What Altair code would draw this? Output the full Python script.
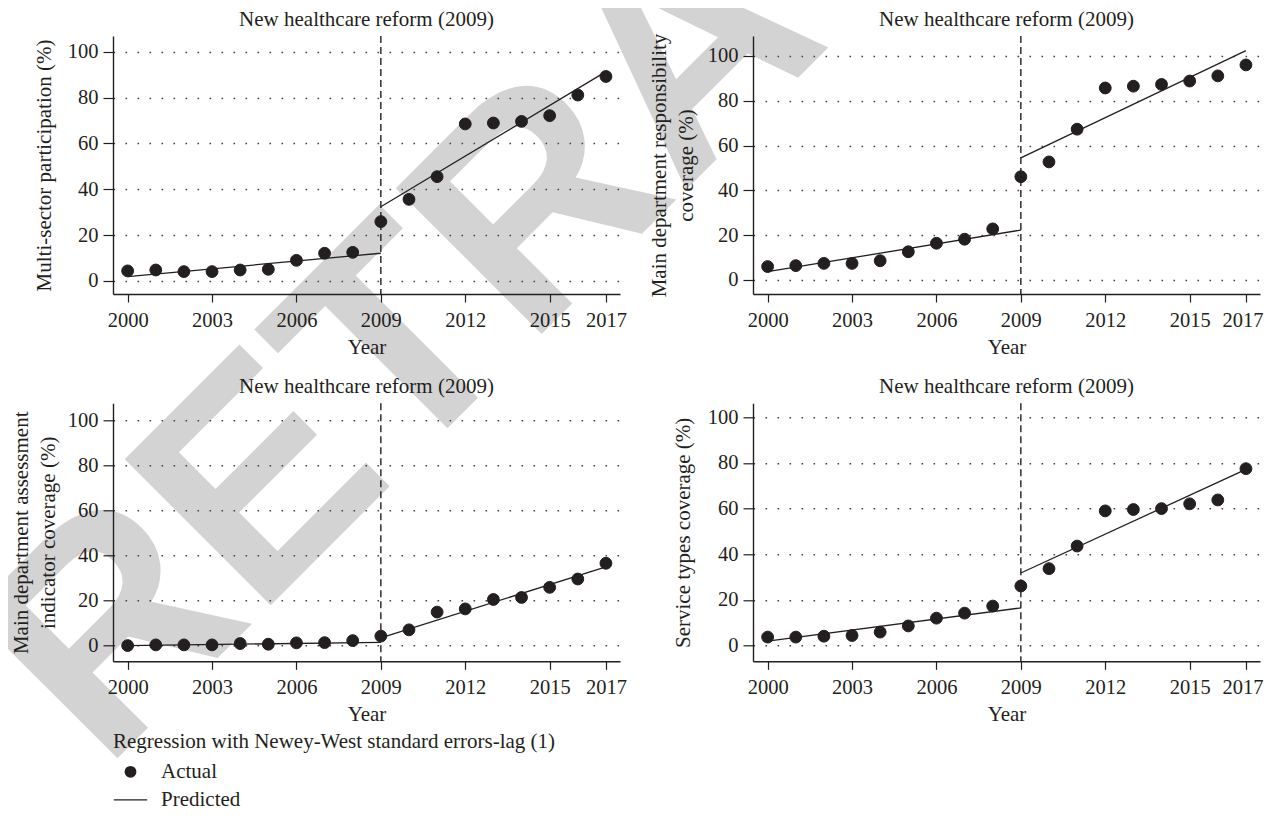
import altair as alt
import pandas as pd

# ---------------- data ----------------
years = list(range(2000, 2018))
x_ticks = [2000, 2003, 2006, 2009, 2012, 2015, 2017]
y_ticks = [0, 20, 40, 60, 80, 100]
reform_year = 2009
panel_title = "New healthcare reform (2009)"
x_title = "Year"
legend_title = "Regression with Newey-West standard errors-lag (1)"
legend_labels = ["Actual", "Predicted"]
watermark = "RETRACTED"

y_titles = [
    "Multi-sector participation (%)",
    ["Main department responsibility", "coverage (%)"],
    ["Main department assessment", "indicator coverage (%)"],
    "Service types coverage (%)",
]

actual_multi_sector = [4.4, 4.8, 4.1, 4.1, 4.8, 5.1, 9.0, 12.1, 12.5, 25.9,
                       35.6, 45.5, 68.5, 68.9, 69.6, 72.1, 81.1, 89.2]
actual_responsibility = [6.0, 6.4, 7.4, 7.4, 8.6, 12.6, 16.4, 18.2, 22.8, 46.1,
                         52.7, 67.3, 85.7, 86.5, 87.3, 88.8, 91.1, 96.0]
actual_assessment = [0.0, 0.3, 0.3, 0.3, 0.9, 0.6, 1.2, 1.3, 2.2, 4.2,
                     7.0, 14.9, 16.3, 20.5, 21.4, 25.9, 29.6, 36.6]
actual_service = [3.7, 3.7, 4.1, 4.4, 5.9, 8.6, 12.0, 14.2, 17.3, 26.1,
                  33.7, 43.6, 59.0, 59.6, 60.0, 62.1, 63.8, 77.5]

# predicted segments: pre-reform (2000 -> 2009) and post-reform (2009 -> 2017)
pred_years = [2000, 2009, 2009, 2017]
pred_segments = ["pre", "pre", "post", "post"]
pred_multi_sector = [1.9, 12.1, 32.4, 91.3]
pred_responsibility = [3.7, 22.3, 54.5, 102.4]
pred_assessment = [0.0, 1.4, 3.4, 35.0]
pred_service = [1.9, 16.5, 31.8, 77.2]

actual = [actual_multi_sector, actual_responsibility, actual_assessment, actual_service]
predicted = [pred_multi_sector, pred_responsibility, pred_assessment, pred_service]
y_domains = [[-5.67, 106.85], [-6.25, 108.9], [-7.0, 107.76], [-6.9, 106.15]]
x_domain = [1999.48, 2017.5]

# ---------------- styling ----------------
FONT = "Liberation Serif"
INK = "#231f20"
W, H = 507, 258
Y_TITLE_PAD = [13, 11, 9, 13.5]
LINE_SYMBOL = "M-1,-0.04H1V0.04H-1Z"


def make_panel(i):
    first = i == 0
    right_col = i in (1, 3)
    with_legend = i == 2
    z = 1 if first else 0
    xs = alt.Scale(domain=x_domain, nice=False, zero=False)
    ys = alt.Scale(domain=y_domains[i], nice=False, zero=False)
    flush = dict(labelFlush=14.35, labelFlushOffset=17) if right_col else dict(labelFlush=False)
    xaxis = alt.Axis(values=x_ticks, format="d", title=x_title, grid=False,
                     tickSize=8, labelPadding=8, titlePadding=6,
                     labelOverlap=False, zindex=z, **flush)
    yaxis = alt.Axis(values=y_ticks, title=y_titles[i], grid=True,
                     tickSize=10, labelPadding=5, titlePadding=Y_TITLE_PAD[i],
                     titleLineHeight=27, labelOverlap=False, zindex=z)
    X = alt.X("year:Q", scale=xs, axis=xaxis)
    Y = alt.Y("value:Q", scale=ys, axis=yaxis)

    df_act = pd.DataFrame({"year": years, "value": actual[i], "series": legend_labels[0]})
    df_pred = pd.DataFrame({"year": pred_years, "value": predicted[i], "segment": pred_segments})

    layers = []
    if first:
        layers.append(
            alt.Chart(pd.DataFrame({"t": [watermark]}))
            .mark_text(font="Liberation Sans", fontWeight="bold", fontSize=300,
                       angle=315, align="center", baseline="alphabetic",
                       color="#d3d3d3")
            .encode(text="t:N", x=alt.value(644.3), y=alt.value(82.5))
        )
    rule = (alt.Chart(pd.DataFrame({"year": [reform_year]}))
            .mark_rule(color=INK, strokeDash=[7, 4], strokeWidth=1.4)
            .encode(x=X))
    line = (alt.Chart(df_pred)
            .mark_line(color=INK, strokeWidth=1.3)
            .encode(x=X, y=Y, detail="segment:N"))
    pt_mark = dict(filled=True, color=INK, opacity=1, stroke=INK, strokeWidth=1.0)
    if with_legend:
        # legend is lifted to the top level of the grid: position relative to panel 1 origin
        leg = alt.Legend(title=legend_title, orient="none", legendX=0, legendY=695.3,
                         titleFont=FONT, titleFontSize=21, titleFontWeight="normal",
                         titleColor=INK, titlePadding=9, titleLimit=2000,
                         labelFont=FONT, labelFontSize=21, labelColor=INK,
                         labelOffset=13, rowPadding=-5, labelLimit=500,
                         symbolStrokeColor=INK, symbolStrokeWidth=1.0,
                         symbolFillColor=INK)
        pts = (alt.Chart(df_act).mark_point(**pt_mark)
               .encode(x=X, y=Y,
                       shape=alt.Shape("series:N",
                                       scale=alt.Scale(domain=legend_labels,
                                                       range=["circle", LINE_SYMBOL]),
                                       legend=leg),
                       size=alt.Size("series:N",
                                     scale=alt.Scale(domain=legend_labels, range=[140, 1116]),
                                     legend=leg)))
    else:
        pts = alt.Chart(df_act).mark_point(size=140, **pt_mark).encode(x=X, y=Y)
    title = (alt.Chart(pd.DataFrame({"t": [panel_title]}))
             .mark_text(font=FONT, fontSize=21, color=INK, align="center", baseline="alphabetic")
             .encode(text="t:N", x=alt.value(W / 2), y=alt.value(-10)))
    layers += [rule, line, pts, title]
    return alt.layer(*layers).properties(width=W, height=H)


panels = [make_panel(i) for i in range(4)]

chart = (
    alt.concat(*panels, columns=2, spacing={"row": 109.3, "column": 133},
               bounds="flush",
               padding={"left": -75, "top": -714, "right": -190, "bottom": -6})
    .configure_view(strokeWidth=0)
    .configure_axis(labelFont=FONT, labelFontSize=20.5, labelColor=INK,
                    titleFont=FONT, titleFontSize=21, titleFontWeight="normal",
                    titleColor=INK, domainColor=INK, domainWidth=1.4,
                    tickColor=INK, tickWidth=1.2,
                    gridColor="#444444", gridDash=[1.6, 10.4], gridWidth=1.4,
                    gridOpacity=1)
    .properties(background="white")
)

chart.save("out.html", embed_options={"renderer": "svg", "actions": False})
